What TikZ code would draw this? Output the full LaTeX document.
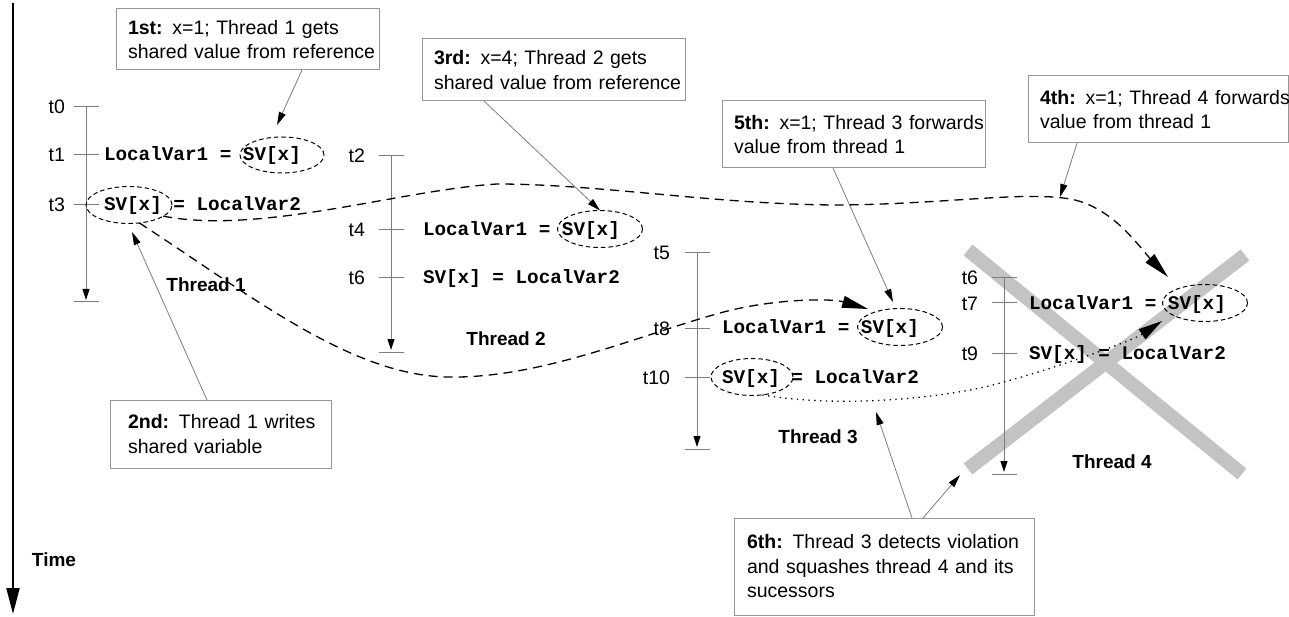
\documentclass[tikz,border=0pt]{standalone}
\usepackage{fontspec}
\setmainfont{Liberation Sans}
\newfontfamily\codefont{Liberation Mono}
\usetikzlibrary{shapes.geometric,arrows.meta}
\definecolor{boxgray}{RGB}{150,150,150}
\definecolor{linegray}{RGB}{125,125,125}
\definecolor{xgray}{RGB}{195,195,195}
\begin{document}
\begin{tikzpicture}[x=1pt,y=-1pt,
  every node/.style={inner sep=0pt, outer sep=0pt},
  txt/.style={font=\fontsize{19.5}{24.5}\selectfont},
  codetxt/.style={font=\codefont\bfseries\fontsize{19.3}{23}\selectfont, anchor=base west},
  tlabel/.style={font=\fontsize{19.5}{24.5}\selectfont, anchor=base east},
  thr/.style={font=\bfseries\fontsize{19}{23}\selectfont},
  infobox/.style={draw=boxgray, line width=1pt, txt, align=left, inner xsep=12pt, anchor=north west},
  svell/.style={ellipse, draw, dash pattern=on 4.5pt off 3pt, line width=1pt, minimum width=85pt, minimum height=37pt},
  tline/.style={draw=linegray, line width=1pt},
  taxis/.style={tline, -{Triangle[length=11pt,width=7pt,color=black]}},
  calloutline/.style={draw=linegray, line width=0.8pt, -{Triangle[length=13pt,width=7pt,color=black]}},
  flowline/.style={draw=black, line width=1.3pt, dash pattern=on 9pt off 6pt, -{Triangle[length=26pt,width=12pt]}},
  dotline/.style={draw=black, line width=1.3pt, dash pattern=on 1.3pt off 4.5pt, -{Triangle[length=24pt,width=12pt]}},
  xbar/.style={draw=xgray, line width=14pt}
]
\useasboundingbox (0,0) rectangle (1289,617);

% squash cross
\draw[xbar] (968,250) -- (1242,474);
\draw[xbar] (1245,255) -- (968,469);

% time axis
\coordinate (timetop) at (13,3);
\coordinate (timeend) at (13,614);
\draw[line width=2pt, -{Triangle[length=26pt,width=13pt]}] (timetop) -- (timeend);
\node[thr] (time) at (54,560) {Time};

% thread axes
\foreach \n/\x/\top/\bot in {1/86/107/302, 2/391/156/352, 3/697/253/449, 4/1004/278/474} {
  \coordinate (top\n) at (\x,\top);
  \coordinate (bot\n) at (\x,\bot);
  \draw[taxis] (top\n) -- ([yshift=2pt]bot\n);
  \draw[tline] ([xshift=-12.5pt]bot\n) -- ([xshift=12.5pt]bot\n);
}

% ticks and labels
\foreach \id/\x/\y/\lab/\lx in {a0/86/107/t0/65, a1/86/155/t1/65, a3/86/205/t3/65,
    b2/391/156/t2/365, b4/391/230/t4/365, b6/391/278/t6/365,
    c5/697/253/t5/670, c8/697/328/t8/670, c10/697/377/t10/670,
    d6/1004/278/t6/978, d7/1004/303/t7/978, d9/1004/353/t9/978} {
  \draw[tline] (\x-12.5,\y) -- (\x+12.5,\y);
  \node[tlabel] (lab\id) at (\lx,\y+7) {\lab};
}

% code lines
\node[codetxt] (c1) at (104,161) {LocalVar1 = SV[x]};
\node[codetxt] (c3) at (104,211) {SV[x] = LocalVar2};
\node[codetxt] (c4) at (423,236) {LocalVar1 = SV[x]};
\node[codetxt] (c6) at (423,284) {SV[x] = LocalVar2};
\node[codetxt] (c8) at (722,334) {LocalVar1 = SV[x]};
\node[codetxt] (c10) at (722,383) {SV[x] = LocalVar2};
\node[codetxt] (c7) at (1029,309) {LocalVar1 = SV[x]};
\node[codetxt] (c9) at (1029,359) {SV[x] = LocalVar2};

% dashed ellipses
\node[svell, minimum width=84pt, minimum height=36pt] (e1) at (282,155) {};
\node[svell, minimum width=86pt, minimum height=37pt] (e3) at (129,205) {};
\node[svell] (e4) at (600,229) {};
\node[svell] (e8) at (900,327) {};
\node[svell, minimum width=82pt] (e10) at (752,377) {};
\node[svell] (e7) at (1205,303) {};

% thread names
\node[thr] (th1) at (206,285) {Thread 1};
\node[thr] (th2) at (506,339) {Thread 2};
\node[thr] (th3) at (818,437) {Thread 3};
\node[thr] (th4) at (1112,462) {Thread 4};

% info boxes
\node[infobox, text width=239pt, minimum height=61pt] (b1) at (116,9)
  {\mbox{\textbf{1st:} x=1; Thread 1 gets}\\\mbox{shared value from reference}};
\node[infobox, text width=185pt, inner xsep=18pt, minimum height=68pt] (b2) at (110,400)
  {\mbox{\textbf{2nd:} Thread 1 writes}\\\mbox{shared variable}};
\node[infobox, text width=239pt, minimum height=62pt] (b3) at (422,39)
  {\mbox{\textbf{3rd:} x=4; Thread 2 gets}\\\mbox{shared value from reference}};
\node[infobox, text width=236pt, minimum height=67pt] (b4) at (1028,76)
  {\mbox{\textbf{4th:} x=1; Thread 4 forwards}\\\mbox{value from thread 1}};
\node[infobox, text width=239pt, minimum height=67pt] (b5) at (722,101)
  {\mbox{\textbf{5th:} x=1; Thread 3 forwards}\\\mbox{value from thread 1}};
\node[infobox, text width=274pt, inner xsep=13pt, minimum height=97pt] (b6) at (734,518)
  {\mbox{\textbf{6th:} Thread 3 detects violation}\\\mbox{and squashes thread 4 and its}\\\mbox{sucessors}};

% callout arrows
\coordinate (p1) at (277,125);
\coordinate (p2) at (132,232);
\coordinate (p4) at (1060,197);
\coordinate (p5) at (893,302);
\coordinate (p6a) at (876,412);
\coordinate (p6b) at (960,475);
\draw[calloutline] ([xshift=186pt]b1.south west) -- (p1);
\draw[calloutline] ([xshift=97pt]b2.north west) -- (p2);
\draw[calloutline] ([xshift=62pt]b3.south west) -- (e4.north);
\draw[calloutline] ([xshift=49pt]b4.south west) -- (p4);
\draw[calloutline] ([xshift=111pt]b5.south west) -- (p5);
\draw[calloutline] ([xshift=178pt]b6.north west) -- (p6a);
\draw[calloutline] ([xshift=189pt]b6.north west) -- (p6b);

% value flows
\coordinate (Aend) at (1168,277);
\coordinate (Bend) at (868,309);
\coordinate (Cend) at (1162,321);
\draw[flowline] (e3.-18) .. controls (260,235) and (400,190) .. (497,184)
  .. controls (600,184) and (720,205) .. (840,205)
  .. controls (950,204) and (1030,190) .. (1075,200)
  .. controls (1115,210) and (1140,248) .. (Aend);
\draw[flowline] (e3.-60) .. controls (250,295) and (350,375) .. (447,377)
  .. controls (540,379) and (640,335) .. (720,313)
  .. controls (770,299) and (830,298) .. (Bend);
\draw[dotline] (e10.-60) .. controls (850,410) and (960,395) .. (1000,383)
  .. controls (1050,370) and (1132,341) .. (Cend);
\end{tikzpicture}
\end{document}
